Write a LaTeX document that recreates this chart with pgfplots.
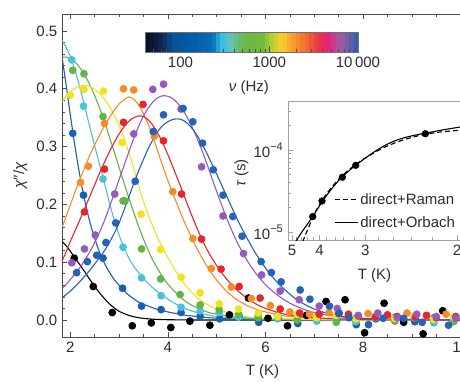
\documentclass[border=0pt]{standalone}
\usepackage{fontspec}
\setmainfont{Liberation Sans}
\usepackage{pgfplots}
\pgfplotsset{compat=1.18}
\definecolor{cdblue}{RGB}{25,95,178}
\definecolor{ccyan}{RGB}{72,192,222}
\definecolor{cgreen}{RGB}{98,180,70}
\definecolor{cyellow}{RGB}{240,226,30}
\definecolor{corange}{RGB}{245,140,40}
\definecolor{cred}{RGB}{232,38,42}
\definecolor{cpurple}{RGB}{150,90,186}
\definecolor{cblue}{RGB}{38,98,184}
\definecolor{axgray}{RGB}{75,75,75}
\definecolor{labgray}{RGB}{45,45,45}
\definecolor{inframe}{RGB}{160,160,160}
\pgfplotsset{
  /pgf/number format/assume math mode=true,
  colormap={cbar}{rgb255(1.6cm)=(10,10,30) rgb255(1.775cm)=(15,35,75) rgb255(1.92cm)=(0,85,155) rgb255(2.17cm)=(0,95,170) rgb255(2.36cm)=(10,110,180) rgb255(2.46cm)=(45,190,230) rgb255(2.56cm)=(100,195,190) rgb255(2.70cm)=(105,185,75) rgb255(2.92cm)=(115,185,60) rgb255(3.04cm)=(185,210,50) rgb255(3.145cm)=(250,205,40) rgb255(3.29cm)=(245,150,45) rgb255(3.43cm)=(240,105,50) rgb255(3.55cm)=(232,55,70) rgb255(3.66cm)=(230,30,125) rgb255(3.80cm)=(165,90,160) rgb255(4.0cm)=(45,95,180)},
  every axis/.append style={font=\fontsize{15}{18}\selectfont},
}
\begin{document}
\fontsize{15}{18}\selectfont
\begin{tikzpicture}
% ---------------- main axis ----------------
\begin{axis}[name=main, at={(0pt,0pt)}, anchor=south west, scale only axis,
  width=403.1pt, height=323pt,
  xmin=1.84, xmax=10.1, ymin=-0.0294, ymax=0.5294,
  xtick={2,4,6,8,10}, minor x tick num=3,
  ytick={0,0.1,0.2,0.3,0.4,0.5}, minor y tick num=4,
  yticklabel style={/pgf/number format/.cd, fixed, fixed zerofill, precision=1},
  tick align=inside, xtick pos=both, ytick pos=left,
  major tick length=5pt, minor tick length=3pt,
  axis line style={draw=axgray, line width=0.8pt},
  every tick/.style={draw=axgray, line width=0.6pt},
  tick label style={text=labgray},
  xlabel={T (K)}, xlabel style={at={(axis description cs:0.496,-0.108)}, anchor=center, text=labgray},
  ylabel={{\itshape χ}″/{\itshape χ}}, ylabel style={at={(axis description cs:-0.105,0.5)}, anchor=center, text=labgray},
  every axis plot/.append style={line width=1.1pt},
]
% fitted curves
\addplot[black, smooth] coordinates {(1.83,0.136) (1.9,0.130) (2.0,0.119) (2.1,0.107) (2.2,0.095) (2.3,0.083) (2.4,0.070) (2.5,0.058) (2.6,0.047) (2.7,0.037) (2.8,0.028) (2.9,0.021) (3.0,0.015) (3.2,0.008) (3.4,0.004) (3.6,0.002) (3.8,0.001) (4.0,0.0005) (4.5,0.0001) (5,0) (7,0) (10.1,0)};
\addplot[cdblue, smooth] coordinates {(1.83,0.455) (1.9,0.415) (2.0,0.355) (2.1,0.298) (2.2,0.248) (2.3,0.205) (2.4,0.170) (2.5,0.141) (2.6,0.117) (2.7,0.098) (2.8,0.083) (2.9,0.070) (3.0,0.060) (3.1,0.051) (3.2,0.043) (3.4,0.031) (3.6,0.024) (3.8,0.018) (4.0,0.014) (4.3,0.009) (4.6,0.006) (5.0,0.003) (5.5,0.0015) (6.5,0.0005) (7.5,0) (10.1,0)};
\addplot[ccyan, smooth] coordinates {(1.83,0.484) (1.9,0.474) (2.0,0.456) (2.1,0.431) (2.2,0.401) (2.3,0.368) (2.4,0.334) (2.5,0.301) (2.6,0.269) (2.7,0.237) (2.8,0.203) (2.9,0.173) (3.0,0.147) (3.1,0.125) (3.2,0.107) (3.3,0.093) (3.4,0.082) (3.5,0.072) (3.6,0.063) (3.7,0.055) (3.8,0.048) (3.9,0.042) (4.0,0.036) (4.2,0.026) (4.4,0.018) (4.6,0.013) (4.8,0.009) (5.0,0.006) (5.5,0.003) (6.0,0.0015) (7.0,0.0005) (8,0) (10.1,0)};
\addplot[cgreen, smooth] coordinates {(1.83,0.454) (1.9,0.455) (2.0,0.452) (2.1,0.446) (2.2,0.436) (2.3,0.423) (2.4,0.407) (2.5,0.388) (2.6,0.367) (2.7,0.343) (2.8,0.317) (2.9,0.291) (3.0,0.264) (3.1,0.237) (3.2,0.211) (3.3,0.186) (3.4,0.162) (3.5,0.140) (3.6,0.120) (3.7,0.102) (3.8,0.087) (3.9,0.074) (4.0,0.062) (4.2,0.044) (4.4,0.030) (4.6,0.021) (4.8,0.014) (5.0,0.010) (5.4,0.005) (6.0,0.002) (7.0,0.0005) (8,0) (10.1,0)};
\addplot[cyellow, smooth] coordinates {(1.83,0.377) (1.9,0.386) (2.0,0.395) (2.1,0.401) (2.2,0.405) (2.3,0.406) (2.4,0.404) (2.5,0.399) (2.6,0.392) (2.7,0.382) (2.8,0.370) (2.9,0.355) (3.0,0.337) (3.1,0.315) (3.2,0.290) (3.3,0.262) (3.4,0.232) (3.5,0.205) (3.6,0.181) (3.7,0.160) (3.8,0.141) (3.9,0.124) (4.0,0.108) (4.2,0.079) (4.4,0.056) (4.6,0.039) (4.8,0.027) (5.0,0.019) (5.3,0.011) (5.6,0.006) (6.0,0.003) (7.0,0.001) (8,0) (10.1,0)};
\addplot[corange, smooth] coordinates {(1.83,0.160) (1.9,0.176) (2.0,0.199) (2.1,0.222) (2.2,0.244) (2.3,0.265) (2.4,0.285) (2.5,0.303) (2.6,0.320) (2.7,0.336) (2.8,0.350) (2.9,0.363) (3.0,0.374) (3.1,0.381) (3.2,0.386) (3.3,0.382) (3.4,0.372) (3.5,0.357) (3.6,0.338) (3.7,0.315) (3.8,0.290) (3.9,0.265) (4.0,0.241) (4.1,0.219) (4.2,0.198) (4.3,0.177) (4.4,0.158) (4.6,0.123) (4.8,0.093) (5.0,0.069) (5.2,0.050) (5.4,0.036) (5.6,0.026) (5.8,0.019) (6.0,0.014) (6.4,0.007) (7.0,0.003) (8,0.001) (10.1,0)};
\addplot[cred, smooth] coordinates {(1.83,0.102) (1.9,0.115) (2.0,0.136) (2.1,0.155) (2.2,0.174) (2.3,0.194) (2.4,0.214) (2.5,0.234) (2.6,0.254) (2.7,0.273) (2.8,0.291) (2.9,0.307) (3.0,0.322) (3.1,0.334) (3.2,0.344) (3.3,0.350) (3.4,0.353) (3.5,0.352) (3.6,0.346) (3.7,0.336) (3.8,0.322) (3.9,0.305) (4.0,0.286) (4.1,0.265) (4.2,0.244) (4.3,0.222) (4.4,0.200) (4.6,0.158) (4.8,0.122) (5.0,0.094) (5.2,0.071) (5.4,0.053) (5.6,0.039) (5.8,0.028) (6.0,0.020) (6.3,0.012) (6.6,0.007) (7.0,0.004) (7.5,0.002) (8.5,0.0005) (10.1,0)};
\addplot[cpurple, smooth] coordinates {(1.83,0.054) (1.9,0.060) (2.0,0.070) (2.1,0.080) (2.2,0.091) (2.3,0.104) (2.4,0.118) (2.5,0.134) (2.6,0.152) (2.7,0.172) (2.8,0.195) (2.9,0.219) (3.0,0.243) (3.1,0.267) (3.2,0.291) (3.3,0.314) (3.4,0.335) (3.5,0.353) (3.6,0.367) (3.7,0.378) (3.8,0.385) (3.9,0.388) (4.0,0.387) (4.1,0.383) (4.2,0.375) (4.3,0.364) (4.4,0.350) (4.5,0.333) (4.6,0.314) (4.7,0.293) (4.8,0.270) (4.9,0.246) (5.0,0.222) (5.2,0.177) (5.4,0.138) (5.6,0.106) (5.8,0.081) (6.0,0.061) (6.2,0.046) (6.4,0.034) (6.6,0.025) (6.8,0.018) (7.0,0.013) (7.3,0.008) (7.6,0.005) (8.0,0.003) (9.0,0.001) (10.1,0)};
\addplot[cblue, smooth] coordinates {(1.83,0.038) (1.9,0.043) (2.0,0.050) (2.1,0.058) (2.2,0.067) (2.3,0.076) (2.4,0.086) (2.5,0.097) (2.6,0.108) (2.7,0.120) (2.8,0.134) (2.9,0.150) (3.0,0.168) (3.1,0.190) (3.2,0.213) (3.3,0.236) (3.4,0.258) (3.5,0.278) (3.6,0.297) (3.7,0.313) (3.8,0.327) (3.9,0.337) (4.0,0.343) (4.1,0.347) (4.2,0.348) (4.3,0.346) (4.4,0.340) (4.5,0.331) (4.6,0.319) (4.7,0.304) (4.8,0.288) (4.9,0.270) (5.0,0.252) (5.2,0.215) (5.4,0.178) (5.6,0.145) (5.8,0.115) (6.0,0.090) (6.2,0.069) (6.4,0.052) (6.6,0.038) (6.8,0.027) (7.0,0.019) (7.2,0.013) (7.5,0.007) (7.8,0.004) (8.2,0.002) (9.0,0.0005) (10.1,0)};
% measured points
\addplot[black, only marks, mark=*, mark size=3.3pt] coordinates {(2.08,0.107) (2.47,0.058) (2.86,0.013) (3.27,-0.010) (3.66,-0.005) (4.06,-0.013) (4.45,-0.002) (4.86,-0.009) (5.26,0.009) (5.65,0.038) (6.05,0.003) (6.45,-0.010) (6.84,0.008) (7.24,0.032) (7.63,0.035) (8.03,-0.022) (8.43,0.029) (8.83,-0.004) (9.23,-0.024) (9.63,0.016)};
\addplot[cdblue, only marks, mark=*, mark size=3.3pt] coordinates {(2.05,0.323) (2.27,0.216) (2.67,0.107) (3.07,0.055) (3.46,0.024) (3.86,0.018) (4.27,0.013) (4.66,0.006) (5.06,0.002) (5.46,0.006) (5.86,-0.004) (6.26,0.003) (6.66,-0.006) (7.06,0.004) (7.46,0.001) (7.86,-0.008) (8.26,0.002) (8.66,0.005) (9.06,-0.003) (9.46,0.004) (9.86,-0.002)};
\addplot[ccyan, only marks, mark=*, mark size=3.3pt] coordinates {(2.03,0.450) (2.27,0.370) (2.67,0.244) (3.08,0.126) (3.46,0.073) (3.86,0.042) (4.27,0.022) (4.66,0.016) (5.05,0.013) (5.45,0.005) (5.85,0.008) (6.25,0.002) (6.65,0.006) (7.05,-0.002) (7.45,0.003) (7.85,-0.003) (8.25,0.004) (8.65,0.001) (9.05,0.004) (9.45,-0.005) (9.85,0.002)};
\addplot[cgreen, only marks, mark=*, mark size=3.3pt] coordinates {(2.05,0.432) (2.28,0.426) (2.67,0.352) (3.08,0.206) (3.12,0.206) (3.46,0.123) (3.85,0.071) (4.25,0.044) (4.66,0.026) (5.05,0.018) (5.45,0.010) (5.85,0.004) (6.25,0.008) (6.65,0.000) (7.05,0.005) (7.45,-0.004) (7.85,0.003) (8.25,0.006) (8.65,-0.002) (9.05,0.004) (9.45,0.001) (9.85,-0.003)};
\addplot[cyellow, only marks, mark=*, mark size=3.3pt] coordinates {(2.00,0.389) (2.28,0.399) (2.68,0.396) (3.06,0.307) (3.45,0.183) (3.85,0.122) (4.27,0.074) (4.66,0.047) (5.05,0.028) (5.45,0.019) (5.85,0.012) (6.25,0.006) (6.65,0.010) (7.05,0.004) (7.45,0.008) (7.85,0.002) (8.25,0.006) (8.65,0.003) (9.05,0.007) (9.45,0.001) (9.85,0.005)};
\addplot[corange, only marks, mark=*, mark size=3.3pt] coordinates {(2.21,0.238) (2.37,0.266) (2.70,0.340) (3.09,0.400) (3.30,0.398) (3.72,0.318) (4.10,0.222) (4.51,0.141) (4.89,0.089) (5.30,0.057) (5.71,0.037) (6.10,0.025) (6.50,0.014) (6.90,0.010) (7.30,0.013) (7.70,0.008) (8.10,0.011) (8.50,0.006) (8.90,0.012) (9.30,0.007) (9.70,0.010)};
\addplot[cred, only marks, mark=*, mark size=3.3pt] coordinates {(2.29,0.187) (2.70,0.261) (3.09,0.342) (3.49,0.373) (3.91,0.310) (4.28,0.218) (4.69,0.140) (5.09,0.088) (5.46,0.058) (5.89,0.038) (6.30,0.019) (6.70,0.012) (7.10,0.010) (7.50,0.011) (7.70,0.010) (7.90,0.007) (8.25,0.005) (8.50,0.009) (8.70,0.006) (9.07,0.005) (9.30,0.008) (9.50,0.004) (9.90,0.006)};
\addplot[cpurple, only marks, mark=*, mark size=3.3pt] coordinates {(2.03,0.099) (2.29,0.123) (2.51,0.147) (2.91,0.218) (3.30,0.322) (3.69,0.399) (3.91,0.408) (4.27,0.365) (4.69,0.265) (5.13,0.180) (5.55,0.115) (5.92,0.078) (6.30,0.050) (6.69,0.035) (7.10,0.024) (7.47,0.020) (7.90,0.008) (8.30,0.012) (8.70,0.004) (9.10,0.010) (9.50,0.006) (9.90,0.003)};
\addplot[cblue, only marks, mark=*, mark size=3.3pt] coordinates {(2.13,0.082) (2.35,0.101) (2.54,0.112) (2.73,0.134) (2.93,0.168) (3.33,0.240) (3.70,0.326) (3.91,0.355) (4.31,0.366) (4.51,0.343) (4.71,0.306) (4.93,0.260) (5.13,0.216) (5.33,0.179) (5.52,0.145) (5.91,0.101) (6.12,0.082) (6.32,0.066) (6.71,0.052) (6.91,0.036) (7.31,0.024) (7.51,0.012) (7.71,0.004) (8.11,-0.008) (8.41,0.003) (8.83,0.003) (9.21,-0.004) (9.75,-0.009)};
\end{axis}
% ---------------- colour bar ----------------
\begin{axis}[at={(82.5pt,285pt)}, anchor=south west, scale only axis,
  width=213pt, height=20pt,
  xmode=log, xmin=39.81, xmax=10000, ymin=0, ymax=1,
  axis on top,
  axis line style={draw=axgray!80, line width=0.5pt},
  ytick=\empty,
  xtick={100,1000,10000}, xticklabels={100,1000,10\,000},
  minor xtick={50,60,70,80,90,200,300,400,500,600,700,800,900,2000,3000,4000,5000,6000,7000,8000,9000},
  tick align=inside, xtick pos=bottom,
  major tick length=6pt, minor tick length=3.5pt,
  every tick/.style={draw=axgray, line width=0.6pt},
  tick label style={text=labgray},
  colormap name=cbar, point meta min=1.6, point meta max=4.0,
  xlabel={{\itshape ν} (Hz)}, xlabel style={at={(axis description cs:0.488,-1.8)}, anchor=center, text=labgray},
]
\addplot[mesh, line width=20pt, point meta=explicit] coordinates {(39.81,0.5) [1.60] (44.67,0.5) [1.65] (50.12,0.5) [1.70] (56.23,0.5) [1.75] (63.10,0.5) [1.80] (70.79,0.5) [1.85] (79.43,0.5) [1.90] (89.13,0.5) [1.95] (100,0.5) [2.00] (112.2,0.5) [2.05] (125.9,0.5) [2.10] (141.3,0.5) [2.15] (158.5,0.5) [2.20] (177.8,0.5) [2.25] (199.5,0.5) [2.30] (223.9,0.5) [2.35] (251.2,0.5) [2.40] (281.8,0.5) [2.45] (316.2,0.5) [2.50] (354.8,0.5) [2.55] (398.1,0.5) [2.60] (446.7,0.5) [2.65] (501.2,0.5) [2.70] (562.3,0.5) [2.75] (631.0,0.5) [2.80] (707.9,0.5) [2.85] (794.3,0.5) [2.90] (891.3,0.5) [2.95] (1000,0.5) [3.00] (1122,0.5) [3.05] (1259,0.5) [3.10] (1413,0.5) [3.15] (1585,0.5) [3.20] (1778,0.5) [3.25] (1995,0.5) [3.30] (2239,0.5) [3.35] (2512,0.5) [3.40] (2818,0.5) [3.45] (3162,0.5) [3.50] (3548,0.5) [3.55] (3981,0.5) [3.60] (4467,0.5) [3.65] (5012,0.5) [3.70] (5623,0.5) [3.75] (6310,0.5) [3.80] (7079,0.5) [3.85] (7943,0.5) [3.90] (8913,0.5) [3.95] (10000,0.5) [4.00]};
\end{axis}
% ---------------- inset ----------------
\begin{axis}[at={(225.5pt,97pt)}, anchor=south west, scale only axis,
  width=174pt, height=139pt,
  xmin=0.1927, xmax=0.509, ymode=log, ymin=7.98e-6, ymax=3.96e-4,
  axis background/.style={fill=white},
  axis line style={draw=inframe, line width=0.8pt},
  xtick={0.2,0.25,0.333333,0.5}, xticklabels={5,4,3,2},
  minor xtick={0.20833,0.21739,0.22727,0.2381,0.26316,0.27778,0.29412,0.3125,0.35714,0.38462,0.41667,0.45455},
  ytick={1e-5,1e-4},
  yticklabels={10\raisebox{0.45em}{\fontsize{11}{13}\selectfont −5},10\raisebox{0.45em}{\fontsize{11}{13}\selectfont −4}},
  minor ytick={2e-5,3e-5,4e-5,5e-5,6e-5,7e-5,8e-5,9e-5,2e-4,3e-4},
  tick align=inside, xtick pos=bottom, ytick pos=left,
  major tick length=5pt, minor tick length=3pt,
  every tick/.style={draw=inframe, line width=0.6pt},
  tick label style={text=labgray},
  xlabel={T (K)}, xlabel style={at={(axis description cs:0.497,-0.259)}, anchor=center, text=labgray},
  ylabel={{\itshape τ} (s)}, ylabel style={at={(axis description cs:-0.267,0.482)}, anchor=center, text=labgray},
  legend style={at={(0.259,0.36)}, anchor=north west, draw=none, fill=none, row sep=6pt, inner sep=1pt, text=labgray},
  legend cell align=left,
  legend image code/.code={\draw[#1] (0pt,0pt) -- (23pt,0pt);},
]
\addplot[black, line width=1.1pt, dash pattern=on 5pt off 3pt] coordinates {(0.219,7.59e-6) (0.2206,7.98e-6) (0.225,9.44e-6) (0.23,1.135e-5) (0.2376,1.496e-5) (0.245,1.905e-5) (0.2545,2.427e-5) (0.265,3.055e-5) (0.275,3.715e-5) (0.285,4.416e-5) (0.295,5.129e-5) (0.305,5.861e-5) (0.315,6.607e-5) (0.33,7.762e-5) (0.35,9.333e-5) (0.37,1.096e-4) (0.39,1.245e-4) (0.41,1.380e-4) (0.43,1.496e-4) (0.45,1.585e-4) (0.47,1.660e-4) (0.49,1.706e-4) (0.51,1.758e-4)};
\addlegendentry{direct+Raman}
\addplot[black, line width=1.1pt, smooth] coordinates {(0.205,7.33e-6) (0.2085,7.98e-6) (0.215,9.33e-6) (0.22,1.047e-5) (0.23,1.303e-5) (0.2376,1.538e-5) (0.245,1.841e-5) (0.2545,2.317e-5) (0.265,2.917e-5) (0.275,3.548e-5) (0.285,4.266e-5) (0.295,4.955e-5) (0.305,5.689e-5) (0.315,6.457e-5) (0.33,7.674e-5) (0.35,9.55e-5) (0.37,1.148e-4) (0.39,1.318e-4) (0.41,1.445e-4) (0.43,1.549e-4) (0.45,1.641e-4) (0.47,1.738e-4) (0.49,1.832e-4) (0.51,1.928e-4)};
\addlegendentry{direct+Orbach}
\addplot[black, only marks, mark=*, mark size=3.4pt, forget plot] coordinates {(0.2376,1.54e-5) (0.2545,2.39e-5) (0.2915,4.65e-5) (0.3158,6.50e-5) (0.4424,1.58e-4)};
\end{axis}
\pgfresetboundingbox
\useasboundingbox (-62.5pt,-44pt) rectangle (397.5pt,337pt);
\end{tikzpicture}
\end{document}
